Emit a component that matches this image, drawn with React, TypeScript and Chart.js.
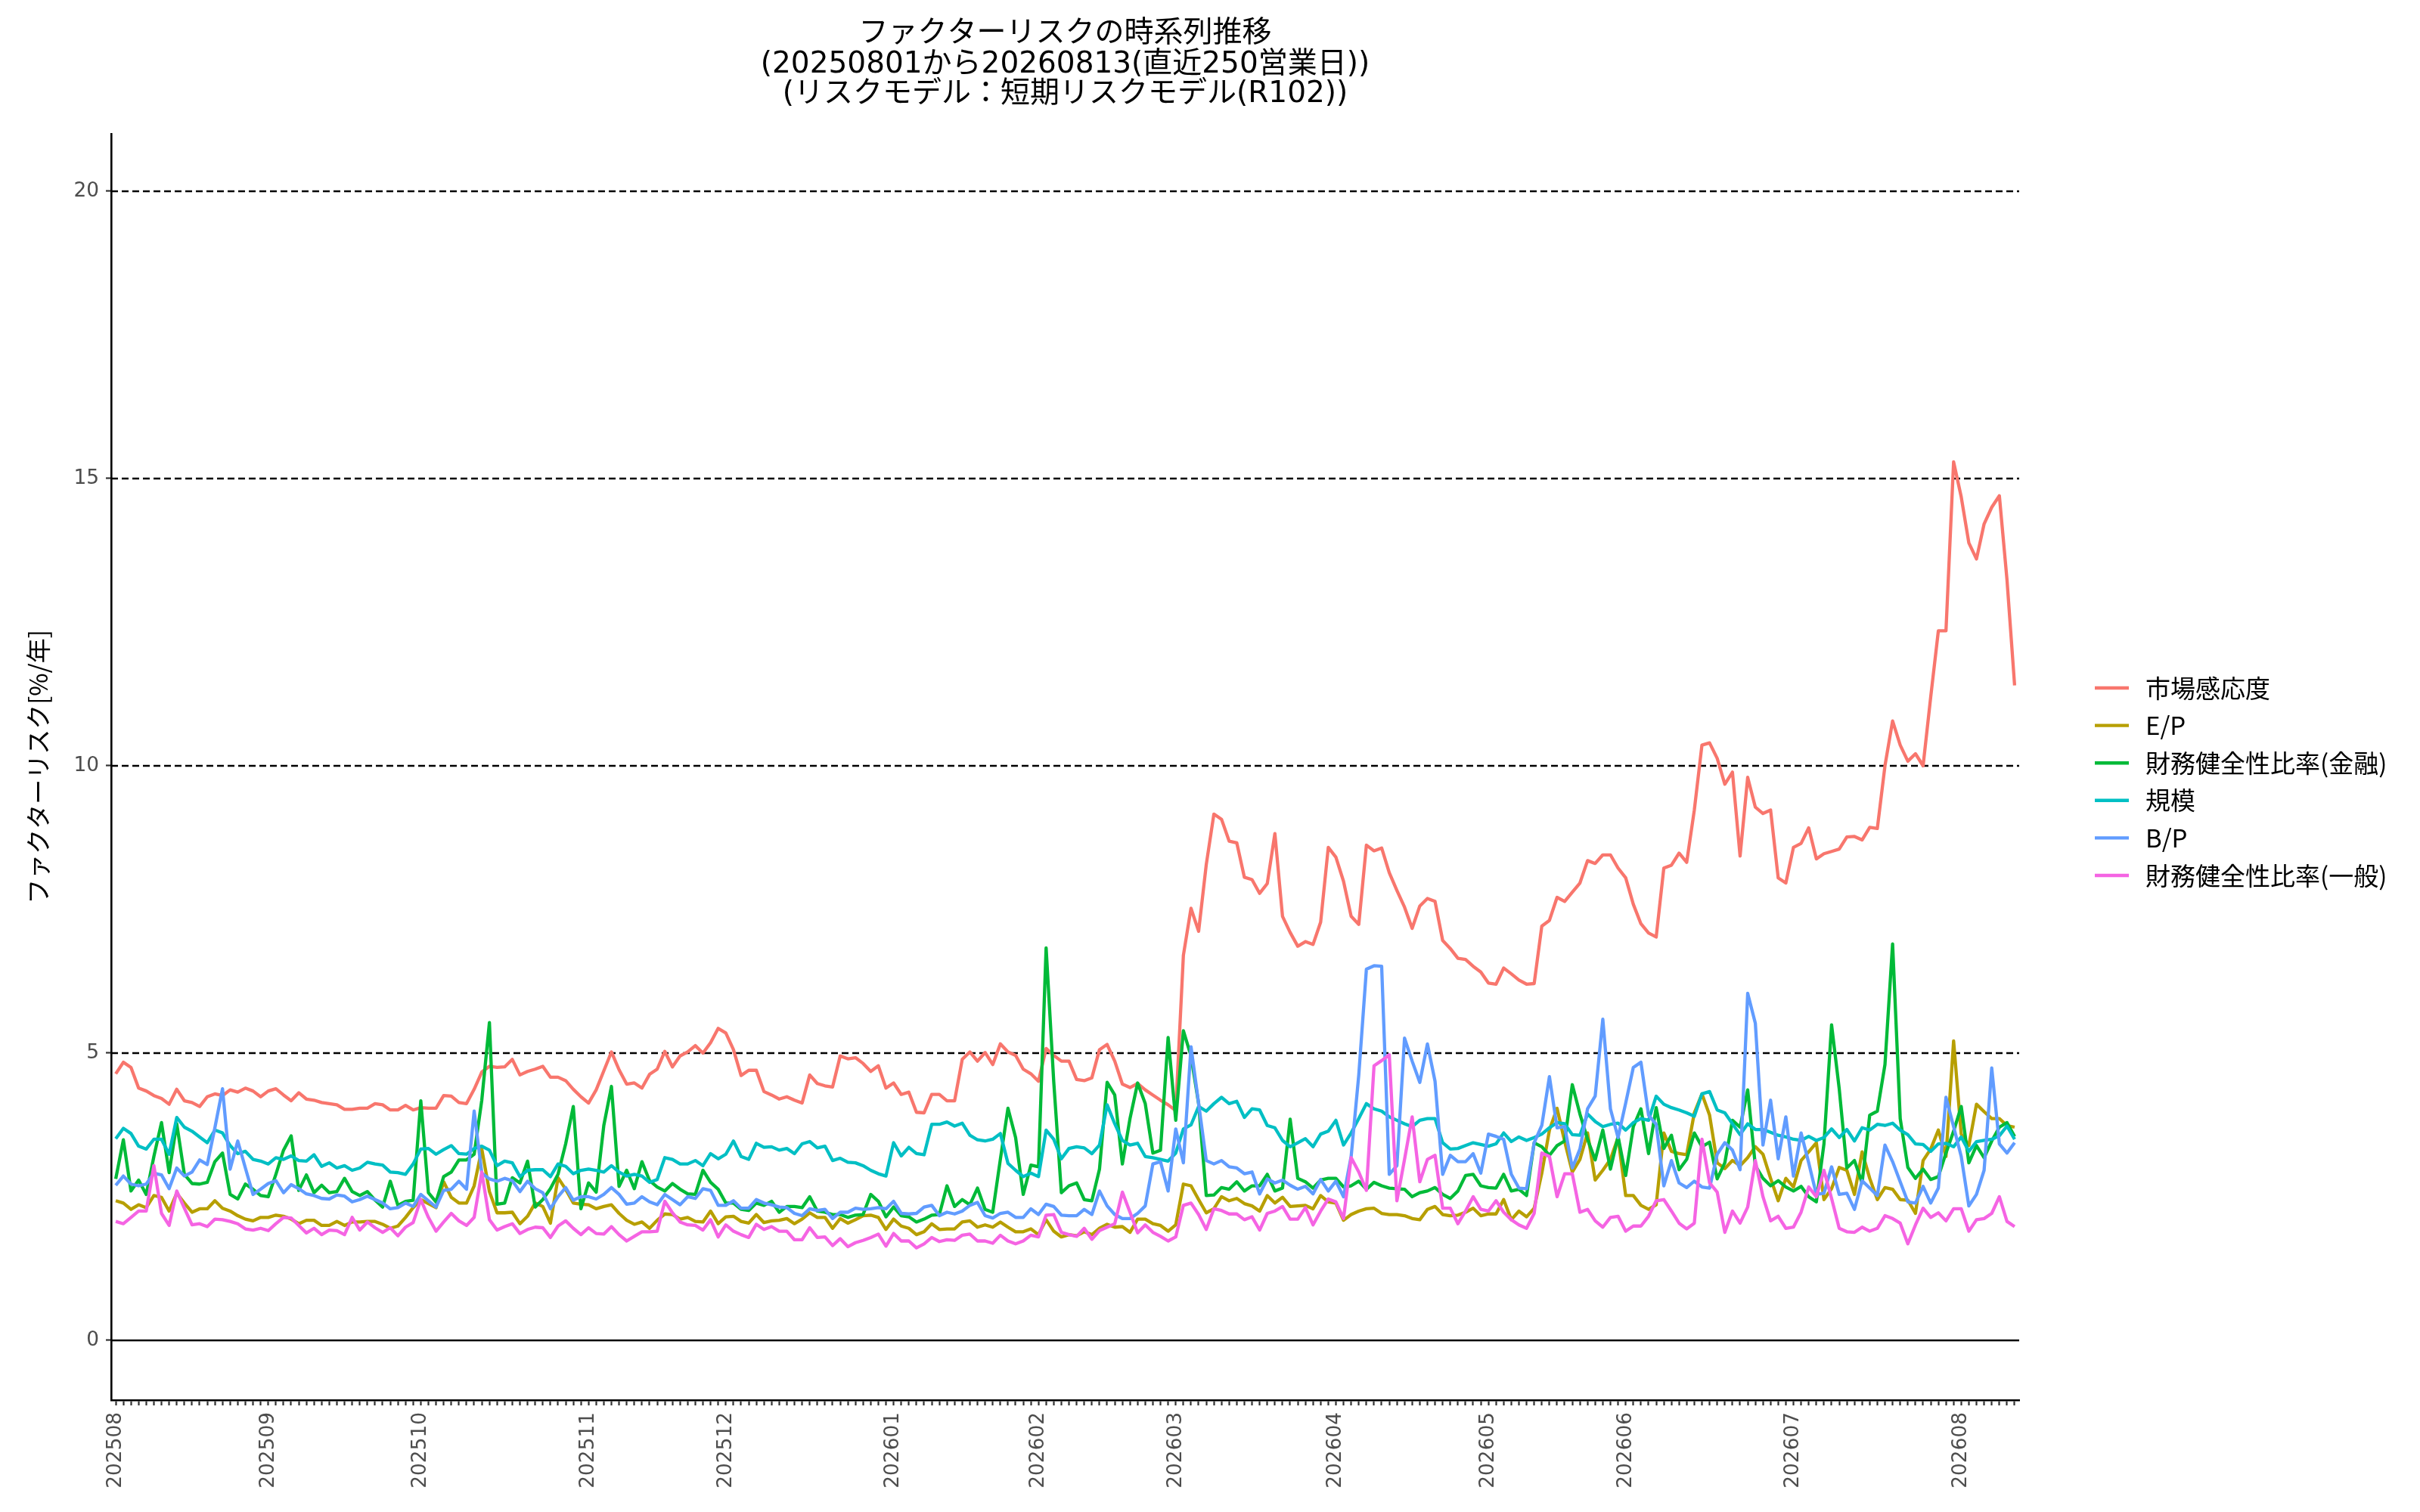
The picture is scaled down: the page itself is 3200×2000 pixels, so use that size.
import React, { useEffect, useRef } from 'react';
import { Chart, registerables } from 'chart.js';

Chart.register(...registerables);

// ---------------- data ----------------
const seriesNames = ['市場感応度', 'E/P', '財務健全性比率(金融)', '規模', 'B/P', '財務健全性比率(一般)'];
const seriesColors = ['#F8766D', '#B79F00', '#00BA38', '#00BFC4', '#619CFF', '#F564E3'];

const marketSensitivity = [
  4.64, 4.84, 4.75, 4.39, 4.34, 4.26, 4.21, 4.11, 4.37, 4.17,
  4.14, 4.07, 4.24, 4.29, 4.26, 4.36, 4.32, 4.39, 4.34, 4.24,
  4.34, 4.38, 4.27, 4.17, 4.31, 4.20, 4.18, 4.14, 4.12, 4.10,
  4.02, 4.02, 4.04, 4.04, 4.12, 4.10, 4.01, 4.01, 4.09, 4.01,
  4.05, 4.04, 4.04, 4.26, 4.25, 4.14, 4.12, 4.37, 4.67, 4.77,
  4.75, 4.76, 4.89, 4.62, 4.68, 4.72, 4.77, 4.58, 4.58, 4.52,
  4.37, 4.24, 4.13, 4.36, 4.69, 5.02, 4.71, 4.46, 4.48, 4.39,
  4.63, 4.72, 5.03, 4.76, 4.95, 5.02, 5.13, 5.00, 5.18, 5.43,
  5.35, 5.06, 4.61, 4.70, 4.70, 4.33, 4.27, 4.20, 4.24, 4.18,
  4.13, 4.62, 4.47, 4.43, 4.41, 4.95, 4.90, 4.92, 4.82, 4.68,
  4.78, 4.39, 4.48, 4.28, 4.32, 3.97, 3.96, 4.28, 4.28, 4.17,
  4.17, 4.89, 5.02, 4.86, 5.01, 4.80, 5.16, 5.02, 4.96, 4.72,
  4.64, 4.51, 5.08, 4.96, 4.86, 4.86, 4.54, 4.52, 4.57, 5.06,
  5.15, 4.86, 4.46, 4.40, 4.47, 4.36, 4.27, 4.18, 4.10, 4.00,
  6.70, 7.52, 7.12, 8.28, 9.16, 9.07, 8.69, 8.66, 8.06, 8.02,
  7.78, 7.95, 8.82, 7.38, 7.10, 6.86, 6.94, 6.89, 7.28, 8.58,
  8.41, 7.99, 7.38, 7.24, 8.62, 8.52, 8.57, 8.14, 7.83, 7.54,
  7.17, 7.56, 7.69, 7.64, 6.96, 6.82, 6.65, 6.63, 6.51, 6.41,
  6.22, 6.20, 6.48, 6.38, 6.27, 6.20, 6.21, 7.21, 7.31, 7.71,
  7.64, 7.80, 7.96, 8.35, 8.30, 8.45, 8.45, 8.22, 8.05, 7.59,
  7.25, 7.09, 7.02, 8.22, 8.27, 8.48, 8.32, 9.23, 10.36, 10.40,
  10.13, 9.68, 9.89, 8.43, 9.80, 9.28, 9.17, 9.23, 8.05, 7.96,
  8.58, 8.65, 8.92, 8.38, 8.47, 8.51, 8.55, 8.76, 8.77, 8.71,
  8.93, 8.91, 10.00, 10.78, 10.36, 10.08, 10.21, 10.00, 11.20, 12.35,
  12.35, 15.29, 14.68, 13.88, 13.60, 14.21, 14.50, 14.70, 13.24, 11.40,
];

const earningsToPrice = [
  2.43, 2.39, 2.28, 2.36, 2.31, 2.52, 2.49, 2.25, 2.56, 2.39,
  2.23, 2.29, 2.29, 2.43, 2.30, 2.25, 2.17, 2.11, 2.08, 2.14,
  2.14, 2.18, 2.16, 2.11, 2.03, 2.09, 2.09, 2.00, 2.00, 2.07,
  2.00, 2.06, 2.06, 2.07, 2.07, 2.02, 1.95, 1.99, 2.14, 2.31,
  2.45, 2.38, 2.31, 2.76, 2.49, 2.39, 2.39, 2.69, 3.33, 2.59,
  2.22, 2.22, 2.23, 2.03, 2.16, 2.39, 2.33, 2.04, 2.83, 2.63,
  2.39, 2.37, 2.36, 2.29, 2.33, 2.36, 2.21, 2.09, 2.02, 2.06,
  1.95, 2.09, 2.20, 2.19, 2.11, 2.14, 2.07, 2.06, 2.25, 2.03,
  2.15, 2.16, 2.07, 2.04, 2.19, 2.05, 2.08, 2.09, 2.12, 2.03,
  2.11, 2.22, 2.14, 2.14, 1.95, 2.12, 2.04, 2.10, 2.17, 2.18,
  2.14, 1.93, 2.11, 1.99, 1.95, 1.84, 1.89, 2.03, 1.93, 1.94,
  1.94, 2.06, 2.08, 1.97, 2.01, 1.97, 2.06, 1.97, 1.89, 1.89,
  1.94, 1.84, 2.10, 1.90, 1.80, 1.84, 1.82, 1.89, 1.84, 1.95,
  2.02, 1.97, 1.98, 1.88, 2.11, 2.11, 2.03, 2.00, 1.90, 2.01,
  2.72, 2.69, 2.45, 2.22, 2.29, 2.50, 2.43, 2.47, 2.38, 2.34,
  2.25, 2.52, 2.39, 2.49, 2.33, 2.34, 2.35, 2.29, 2.52, 2.41,
  2.39, 2.09, 2.19, 2.25, 2.29, 2.30, 2.21, 2.19, 2.19, 2.17,
  2.12, 2.10, 2.28, 2.33, 2.19, 2.17, 2.18, 2.23, 2.30, 2.17,
  2.20, 2.20, 2.45, 2.10, 2.25, 2.15, 2.30, 2.91, 3.66, 4.04,
  3.46, 2.93, 3.15, 3.61, 2.79, 2.96, 3.15, 3.53, 2.52, 2.52,
  2.35, 2.28, 2.36, 3.61, 3.29, 3.25, 3.23, 3.96, 4.29, 3.92,
  3.09, 2.99, 3.13, 3.04, 3.18, 3.37, 3.24, 2.82, 2.43, 2.82,
  2.67, 3.13, 3.28, 3.44, 2.45, 2.64, 3.01, 2.96, 2.54, 3.28,
  2.82, 2.45, 2.66, 2.63, 2.45, 2.44, 2.21, 3.13, 3.33, 3.66,
  3.20, 5.21, 3.59, 3.39, 4.11, 3.98, 3.86, 3.86, 3.74, 3.71,
];

const financialHealthFinance = [
  2.81, 3.49, 2.60, 2.79, 2.54, 3.20, 3.79, 2.92, 3.77, 2.89,
  2.73, 2.72, 2.75, 3.11, 3.26, 2.54, 2.46, 2.72, 2.63, 2.52,
  2.50, 2.89, 3.31, 3.56, 2.61, 2.88, 2.57, 2.70, 2.57, 2.59,
  2.82, 2.59, 2.52, 2.59, 2.44, 2.32, 2.77, 2.35, 2.42, 2.44,
  4.17, 2.57, 2.41, 2.85, 2.93, 3.14, 3.14, 3.24, 4.18, 5.53,
  2.37, 2.39, 2.83, 2.74, 3.12, 2.32, 2.45, 2.64, 2.89, 3.42,
  4.07, 2.29, 2.74, 2.58, 3.74, 4.42, 2.68, 2.96, 2.64, 3.11,
  2.78, 2.67, 2.60, 2.73, 2.63, 2.55, 2.54, 2.96, 2.75, 2.63,
  2.39, 2.39, 2.28, 2.26, 2.39, 2.35, 2.42, 2.23, 2.33, 2.33,
  2.31, 2.50, 2.25, 2.23, 2.19, 2.19, 2.14, 2.18, 2.19, 2.54,
  2.42, 2.15, 2.32, 2.17, 2.15, 2.06, 2.11, 2.18, 2.19, 2.69,
  2.33, 2.45, 2.36, 2.65, 2.28, 2.23, 3.15, 4.04, 3.53, 2.54,
  3.05, 3.02, 6.83, 4.50, 2.57, 2.69, 2.74, 2.45, 2.43, 2.98,
  4.49, 4.27, 3.07, 3.86, 4.48, 4.12, 3.26, 3.31, 5.27, 3.83,
  5.39, 4.95, 4.12, 2.52, 2.53, 2.66, 2.63, 2.76, 2.60, 2.69,
  2.69, 2.89, 2.60, 2.65, 3.85, 2.82, 2.76, 2.65, 2.79, 2.82,
  2.82, 2.67, 2.69, 2.77, 2.63, 2.75, 2.69, 2.65, 2.64, 2.63,
  2.50, 2.57, 2.60, 2.66, 2.54, 2.47, 2.60, 2.87, 2.89, 2.69,
  2.66, 2.65, 2.89, 2.60, 2.63, 2.52, 3.44, 3.37, 3.22, 3.39,
  3.47, 4.45, 3.94, 3.50, 3.14, 3.66, 2.98, 3.55, 2.87, 3.72,
  4.03, 3.25, 4.05, 3.34, 3.57, 2.97, 3.15, 3.61, 3.37, 3.45,
  2.81, 3.09, 3.83, 3.71, 4.36, 3.04, 2.82, 2.69, 2.78, 2.67,
  2.60, 2.68, 2.50, 2.41, 3.42, 5.49, 4.38, 3.00, 3.13, 2.74,
  3.92, 3.99, 4.80, 6.90, 3.86, 3.01, 2.82, 2.98, 2.80, 2.85,
  3.26, 3.64, 4.07, 3.09, 3.39, 3.18, 3.47, 3.71, 3.79, 3.55,
];

const sizeFactor = [
  3.51, 3.69, 3.60, 3.38, 3.33, 3.50, 3.50, 3.24, 3.88, 3.71,
  3.64, 3.54, 3.44, 3.66, 3.61, 3.39, 3.25, 3.29, 3.15, 3.12,
  3.07, 3.18, 3.15, 3.21, 3.13, 3.12, 3.23, 3.03, 3.09, 3.00,
  3.04, 2.96, 3.00, 3.10, 3.07, 3.05, 2.93, 2.92, 2.89, 3.07,
  3.33, 3.34, 3.24, 3.32, 3.39, 3.25, 3.24, 3.34, 3.38, 3.31,
  3.04, 3.12, 3.09, 2.85, 2.96, 2.97, 2.97, 2.85, 3.07, 3.03,
  2.90, 2.96, 2.98, 2.96, 2.93, 3.04, 2.93, 2.86, 2.89, 2.86,
  2.75, 2.80, 3.18, 3.15, 3.07, 3.07, 3.13, 3.04, 3.25, 3.16,
  3.24, 3.47, 3.20, 3.15, 3.43, 3.36, 3.37, 3.31, 3.34, 3.25,
  3.42, 3.46, 3.35, 3.38, 3.13, 3.17, 3.10, 3.09, 3.04, 2.96,
  2.90, 2.86, 3.44, 3.21, 3.36, 3.25, 3.23, 3.76, 3.76, 3.80,
  3.73, 3.78, 3.57, 3.49, 3.47, 3.50, 3.60, 3.08, 2.96, 2.85,
  2.91, 2.85, 3.66, 3.50, 3.16, 3.34, 3.37, 3.35, 3.25, 3.40,
  4.10, 3.77, 3.48, 3.40, 3.43, 3.20, 3.18, 3.15, 3.12, 3.26,
  3.68, 3.75, 4.07, 3.99, 4.12, 4.23, 4.12, 4.16, 3.88, 4.03,
  4.01, 3.74, 3.70, 3.48, 3.37, 3.44, 3.51, 3.37, 3.59, 3.64,
  3.83, 3.40, 3.61, 3.86, 4.12, 4.03, 3.99, 3.89, 3.83, 3.77,
  3.72, 3.83, 3.86, 3.86, 3.44, 3.33, 3.34, 3.39, 3.44, 3.41,
  3.38, 3.42, 3.61, 3.46, 3.54, 3.48, 3.53, 3.59, 3.70, 3.79,
  3.77, 3.58, 3.57, 3.94, 3.81, 3.72, 3.76, 3.78, 3.66, 3.79,
  3.86, 3.83, 4.25, 4.11, 4.05, 4.01, 3.96, 3.90, 4.29, 4.33,
  4.01, 3.96, 3.77, 3.58, 3.77, 3.67, 3.67, 3.62, 3.57, 3.54,
  3.50, 3.48, 3.55, 3.48, 3.53, 3.68, 3.53, 3.67, 3.47, 3.70,
  3.66, 3.76, 3.74, 3.78, 3.66, 3.58, 3.42, 3.41, 3.29, 3.42,
  3.43, 3.37, 3.54, 3.29, 3.46, 3.48, 3.50, 3.56, 3.73, 3.50,
];

const bookToPrice = [
  2.70, 2.86, 2.72, 2.69, 2.72, 2.91, 2.88, 2.64, 3.00, 2.86,
  2.93, 3.14, 3.06, 3.70, 4.38, 2.98, 3.47, 3.00, 2.54, 2.63,
  2.73, 2.78, 2.57, 2.71, 2.64, 2.55, 2.52, 2.47, 2.46, 2.53,
  2.51, 2.41, 2.45, 2.51, 2.45, 2.39, 2.29, 2.31, 2.39, 2.33,
  2.54, 2.43, 2.32, 2.61, 2.63, 2.77, 2.63, 3.99, 2.91, 2.81,
  2.77, 2.82, 2.78, 2.59, 2.77, 2.64, 2.57, 2.29, 2.50, 2.66,
  2.44, 2.50, 2.50, 2.46, 2.54, 2.66, 2.54, 2.37, 2.39, 2.50,
  2.41, 2.36, 2.54, 2.45, 2.36, 2.50, 2.47, 2.64, 2.61, 2.35,
  2.35, 2.43, 2.30, 2.30, 2.45, 2.39, 2.36, 2.32, 2.31, 2.21,
  2.17, 2.29, 2.26, 2.28, 2.12, 2.23, 2.23, 2.30, 2.28, 2.29,
  2.31, 2.29, 2.42, 2.21, 2.20, 2.21, 2.32, 2.35, 2.17, 2.23,
  2.20, 2.25, 2.35, 2.40, 2.17, 2.13, 2.21, 2.23, 2.14, 2.14,
  2.29, 2.19, 2.37, 2.33, 2.18, 2.17, 2.17, 2.28, 2.19, 2.60,
  2.34, 2.19, 2.12, 2.12, 2.21, 2.34, 3.07, 3.11, 2.60, 3.68,
  3.09, 5.11, 4.12, 3.13, 3.07, 3.13, 3.02, 3.00, 2.90, 2.93,
  2.55, 2.81, 2.74, 2.79, 2.70, 2.63, 2.68, 2.55, 2.80, 2.60,
  2.77, 2.50, 3.20, 4.62, 6.46, 6.52, 6.51, 2.89, 3.04, 5.26,
  4.86, 4.49, 5.16, 4.51, 2.89, 3.22, 3.11, 3.11, 3.25, 2.91,
  3.59, 3.55, 3.50, 2.89, 2.65, 2.64, 3.44, 3.74, 4.59, 3.70,
  3.72, 3.00, 3.33, 4.03, 4.25, 5.59, 4.03, 3.53, 4.13, 4.75,
  4.84, 3.92, 3.76, 2.69, 3.13, 2.74, 2.66, 2.77, 2.67, 2.65,
  3.24, 3.44, 3.31, 2.97, 6.04, 5.52, 3.40, 4.18, 3.16, 3.89,
  2.86, 3.61, 3.09, 2.54, 2.56, 3.02, 2.54, 2.56, 2.28, 2.78,
  2.65, 2.52, 3.40, 3.11, 2.76, 2.41, 2.39, 2.68, 2.39, 2.65,
  4.23, 3.72, 3.20, 2.34, 2.54, 2.96, 4.74, 3.42, 3.26, 3.44,
];

const financialHealthGeneral = [
  2.07, 2.03, 2.14, 2.25, 2.25, 3.04, 2.21, 2.00, 2.60, 2.30,
  2.01, 2.03, 1.98, 2.11, 2.10, 2.07, 2.03, 1.94, 1.92, 1.95,
  1.91, 2.03, 2.14, 2.13, 2.00, 1.87, 1.95, 1.84, 1.92, 1.91,
  1.84, 2.14, 1.92, 2.06, 1.96, 1.88, 1.96, 1.82, 1.97, 2.05,
  2.45, 2.14, 1.90, 2.06, 2.21, 2.08, 2.00, 2.14, 2.93, 2.10,
  1.92, 1.98, 2.03, 1.86, 1.93, 1.97, 1.96, 1.79, 1.99, 2.08,
  1.95, 1.84, 1.96, 1.86, 1.85, 1.98, 1.84, 1.73, 1.81, 1.89,
  1.89, 1.90, 2.42, 2.22, 2.06, 2.01, 2.00, 1.92, 2.10, 1.80,
  2.01, 1.90, 1.84, 1.79, 2.02, 1.93, 1.98, 1.90, 1.90, 1.75,
  1.75, 1.96, 1.79, 1.80, 1.65, 1.77, 1.63, 1.70, 1.74, 1.79,
  1.85, 1.64, 1.86, 1.73, 1.73, 1.61, 1.68, 1.79, 1.72, 1.75,
  1.74, 1.83, 1.85, 1.73, 1.73, 1.69, 1.83, 1.73, 1.68, 1.73,
  1.83, 1.80, 2.18, 2.19, 1.88, 1.84, 1.81, 1.95, 1.76, 1.91,
  1.97, 2.03, 2.58, 2.23, 1.87, 2.01, 1.88, 1.81, 1.73, 1.80,
  2.35, 2.39, 2.19, 1.93, 2.29, 2.26, 2.20, 2.20, 2.10, 2.15,
  1.92, 2.21, 2.25, 2.33, 2.11, 2.11, 2.31, 2.01, 2.25, 2.46,
  2.41, 2.12, 3.18, 2.93, 2.61, 4.78, 4.87, 4.97, 2.43, 3.15,
  3.89, 2.76, 3.15, 3.22, 2.30, 2.30, 2.03, 2.25, 2.50, 2.28,
  2.25, 2.43, 2.23, 2.10, 2.01, 1.95, 2.21, 3.26, 3.20, 2.50,
  2.90, 2.90, 2.23, 2.28, 2.08, 1.97, 2.14, 2.16, 1.90, 1.99,
  1.99, 2.16, 2.43, 2.45, 2.25, 2.04, 1.94, 2.04, 3.50, 2.74,
  2.58, 1.88, 2.25, 2.04, 2.32, 3.13, 2.50, 2.08, 2.16, 1.95,
  1.97, 2.23, 2.67, 2.50, 2.96, 2.47, 1.95, 1.89, 1.88, 1.97,
  1.90, 1.95, 2.17, 2.12, 2.04, 1.68, 2.01, 2.30, 2.14, 2.22,
  2.08, 2.29, 2.29, 1.90, 2.10, 2.12, 2.21, 2.50, 2.07, 1.98,
];

// x axis: business-day index, labelled at the first business day of each month
const monthTickIdx = [0, 20, 40, 62, 80, 102, 121, 139, 160, 180, 198, 220, 242];
const monthLabels = ['202508', '202509', '202510', '202511', '202512', '202601', '202602', '202603', '202604', '202605', '202606', '202607', '202608'];
const yTickValues = [0, 5, 10, 15, 20];
const dashedGridValues = [5, 10, 15, 20];
const zeroLineValue = 0;

const titleLines = [
  'ファクターリスクの時系列推移',
  '(20250801から20260813(直近250営業日))',
  '(リスクモデル：短期リスクモデル(R102))',
];
const yAxisTitle = 'ファクターリスク[%/年]';

// ---------------- layout constants ----------------
const W = 3200;
const H = 2000;
const JP = '"Noto Sans CJK JP", "Noto Sans", sans-serif';
const TITLE_FONT = '"DejaVu Sans", "Noto Sans CJK JP", sans-serif';
const TICK_FONT = '"DejaVu Sans", sans-serif';
const TITLE_Y = [45, 86, 125];
const LEGEND_TOP = 910;
const LEGEND_STEP = 49.6;

const decorPlugin = {
  id: 'decor',
  beforeDatasetsDraw(chart: any) {
    const { ctx, chartArea: a, scales } = chart;
    const y = scales.y;
    ctx.save();
    ctx.beginPath();
    ctx.rect(a.left, a.top, a.right - a.left, a.bottom - a.top);
    ctx.clip();
    ctx.strokeStyle = '#000000';
    ctx.lineWidth = 2.4;
    ctx.lineCap = 'butt';
    for (const v of dashedGridValues) {
      const py = y.getPixelForValue(v);
      ctx.setLineDash([9, 5]);
      ctx.beginPath();
      ctx.moveTo(a.left, py);
      ctx.lineTo(a.right, py);
      ctx.stroke();
    }
    const pz = y.getPixelForValue(zeroLineValue);
    ctx.setLineDash([]);
    ctx.beginPath();
    ctx.moveTo(a.left, pz);
    ctx.lineTo(a.right, pz);
    ctx.stroke();
    ctx.restore();
  },
  afterDraw(chart: any) {
    const { ctx, chartArea: a } = chart;
    ctx.save();
    ctx.setLineDash([]);
    ctx.fillStyle = '#000000';
    ctx.textBaseline = 'middle';
    ctx.textAlign = 'center';
    ctx.font = `39px ${TITLE_FONT}`;
    const cx = (a.left + a.right) / 2;
    titleLines.forEach((t, k) => ctx.fillText(t, cx, TITLE_Y[k]));

    ctx.textAlign = 'left';
    ctx.font = `33px ${JP}`;
    chart.data.datasets.forEach((ds: any, k: number) => {
      const yy = LEGEND_TOP + k * LEGEND_STEP;
      ctx.strokeStyle = ds.borderColor;
      ctx.lineWidth = 4.4;
      ctx.lineCap = 'butt';
      ctx.beginPath();
      ctx.moveTo(a.right + 100, yy);
      ctx.lineTo(a.right + 145, yy);
      ctx.stroke();
      ctx.fillStyle = '#000000';
      ctx.fillText(ds.label, a.right + 167, yy);
    });
    ctx.restore();
  },
};

export default function App() {
  const canvasRef = useRef<HTMLCanvasElement | null>(null);

  useEffect(() => {
    const canvas = canvasRef.current;
    if (!canvas) return;
    const allSeries = [marketSensitivity, earningsToPrice, financialHealthFinance, sizeFactor, bookToPrice, financialHealthGeneral];
    const dayIdx = marketSensitivity.map((_, i) => i);
    const labelMap = new Map<number, string>(monthTickIdx.map((v, k) => [v, monthLabels[k]]));

    const datasets = allSeries.map((vals, k) => ({
      label: seriesNames[k],
      data: vals.map((v, i) => ({ x: dayIdx[i], y: v })),
      borderColor: seriesColors[k],
      backgroundColor: seriesColors[k],
      borderWidth: 4.3,
      pointRadius: 0,
      pointHoverRadius: 0,
      tension: 0,
      fill: false,
      borderJoinStyle: 'round' as const,
      borderCapStyle: 'butt' as const,
      order: allSeries.length - k,
    }));

    const chart = new Chart(canvas, {
      type: 'line',
      data: { datasets },
      options: {
        animation: false,
        responsive: false,
        devicePixelRatio: 1,
        events: [],
        layout: { padding: { top: 177, right: 530, bottom: 0, left: 0 } },
        plugins: {
          legend: { display: false },
          title: { display: false },
          tooltip: { enabled: false },
        },
        scales: {
          x: {
            type: 'linear',
            min: -0.6,
            max: 249.6,
            afterBuildTicks: (s: any) => {
              s.ticks = dayIdx.map((v) => ({ value: v }));
            },
            afterFit: (s: any) => {
              s.height = 148;
            },
            ticks: {
              autoSkip: false,
              maxRotation: 90,
              minRotation: 90,
              padding: 9,
              color: '#4D4D4D',
              font: { family: TICK_FONT, size: 26.4 },
              callback: (v: any) => labelMap.get(Number(v)) ?? '',
            },
            grid: {
              drawOnChartArea: false,
              drawTicks: true,
              tickLength: 7,
              tickColor: '#333333',
              tickWidth: 2.2,
            },
            border: { display: true, color: '#000000', width: 2.6 },
          },
          y: {
            type: 'linear',
            min: -1.04,
            max: 21.0,
            afterBuildTicks: (s: any) => {
              s.ticks = yTickValues.map((v) => ({ value: v }));
            },
            afterFit: (s: any) => {
              s.width = 147;
            },
            ticks: {
              padding: 9,
              color: '#4D4D4D',
              font: { family: TICK_FONT, size: 26.4 },
              callback: (v: any) => String(v),
            },
            grid: {
              drawOnChartArea: false,
              drawTicks: true,
              tickLength: 7,
              tickColor: '#333333',
              tickWidth: 2.2,
            },
            border: { display: true, color: '#000000', width: 2.6 },
            title: {
              display: true,
              text: yAxisTitle,
              color: '#000000',
              font: { family: JP, size: 33 },
              padding: { top: 31, bottom: 0 },
            },
          },
        },
      },
      plugins: [decorPlugin],
    } as any);

    return () => {
      chart.destroy();
    };
  }, []);

  return (
    <div style={{ position: 'fixed', left: 0, top: 0, width: W, height: H, background: '#FFFFFF' }}>
      <canvas ref={canvasRef} width={W} height={H} style={{ width: W, height: H, display: 'block' }} />
    </div>
  );
}
